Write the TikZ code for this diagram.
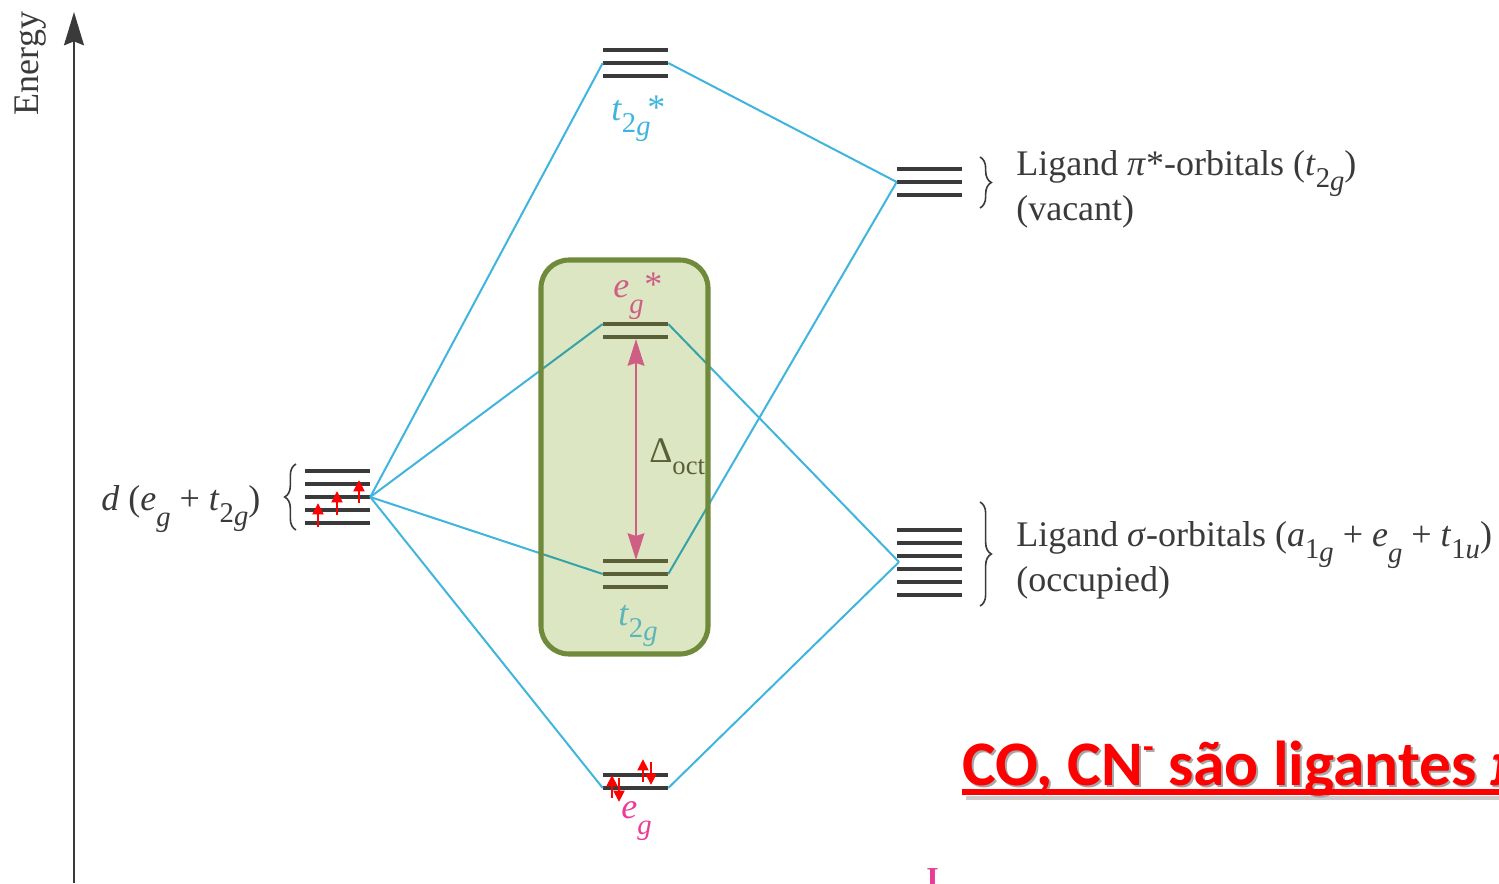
\documentclass[tikz,border=0pt]{standalone}
\usepackage{fontspec}
\usepackage{xcolor}
\setmainfont{Liberation Serif}
\newfontfamily\slidefont{Carlito}
\usetikzlibrary{positioning}
\usetikzlibrary{arrows.meta}
\usetikzlibrary{decorations.pathreplacing}
\definecolor{moblue}{HTML}{3FB4DE}
\definecolor{lvldark}{HTML}{3A3A3A}
\definecolor{lvlinner}{HTML}{686A4A}
\definecolor{pinkinner}{HTML}{EF69AF}
\definecolor{tealinner}{HTML}{6CC9F5}
\definecolor{egpink}{HTML}{EA3C96}
\definecolor{boxfill}{HTML}{DDE6C2}
\definecolor{boxedge}{HTML}{6F8A3A}
\newcommand{\lowsub}[1]{\raisebox{-0.36em}{\fontsize{21.5}{22}\selectfont #1}}
\newcommand{\twog}{\lowsub{2\raisebox{-0.1em}{\textit{g}}}}
\newcommand{\gsub}{\raisebox{-0.45em}{\fontsize{21.5}{22}\selectfont\textit{g}}}

\begin{document}
\begin{tikzpicture}[x=0.75pt,y=-0.75pt,node distance=9.75pt,on grid,
      lvl/.style={fill=lvldark, inner sep=0pt, minimum width=48.75pt, minimum height=3.5pt},
      lvlin/.style={lvl, fill=lvlinner},
      txt/.style={anchor=base west, inner sep=0pt, text=lvldark, font=\fontsize{27}{32}\selectfont, align=left},
      mo/.style={draw=moblue, line width=1.5pt},
      elec/.style={draw=red, line width=2.2pt, -{Triangle[length=8.5pt,width=8pt]}},
      brc/.style={draw=lvldark, line width=1.2pt, decorate},
      slide/.style={anchor=base west, inner sep=0pt, font=\slidefont\bfseries\fontsize{47.6}{56}\selectfont}]

      \useasboundingbox (0,0) rectangle (1499,883);
      \clip (0,0) rectangle (1499,883);

      % axis
      \coordinate (axbot) at (74,883);
      \coordinate (axtop) at (74,12);
      \draw[lvldark, line width=1.3pt, -{Stealth[length=25pt,width=15pt,inset=3pt]}] (axbot) -- (axtop);
      \node[txt, rotate=90] (energy) at (38,115.5) {Energy};

      % metal d levels
      \node[lvl] (d1) at (337.5,471) {};
      \node[lvl] (d2) [below=of d1] {};
      \node[lvl] (d3) [below=of d2] {};
      \node[lvl] (d4) [below=of d3] {};
      \node[lvl] (d5) [below=of d4] {};

      % molecular orbitals
      \node[lvl] (tsa) at (635.5,50) {};
      \node[lvl] (tsb) [below=of tsa] {};
      \node[lvl] (tsc) [below=of tsb] {};

      \node[lvlin] (esa) at (635.5,324) {};
      \node[lvlin] (esb) [below=of esa] {};

      \node[lvlin] (ta) at (635.5,561) {};
      \node[lvlin] (tb) [below=of ta] {};
      \node[lvlin] (tc) [below=of tb] {};

      \node[lvl] (ea) at (635.5,775) {};
      \node[lvl] (eb) [below=of ea] {};

      % ligand levels
      \node[lvl] (pa) at (929.5,169) {};
      \node[lvl] (pb) [below=of pa] {};
      \node[lvl] (pc) [below=of pb] {};

      \node[lvl] (sa) at (929.5,530) {};
      \node[lvl] (sb) [below=of sa] {};
      \node[lvl] (sc) [below=of sb] {};
      \node[lvl] (sd) [below=of sc] {};
      \node[lvl] (se) [below=of sd] {};
      \node[lvl] (sf) [below=of se] {};
      \coordinate (sgm) at (899,562);

      \path[mo]
        (d3.east) edge (tsb.west)
        (d3.east) edge (esa.west)
        (d3.east) edge (tb.west)
        (d3.east) edge (eb.west)
        (tsb.east) edge (pb.west)
        (tb.east) edge (pb.west)
        (esa.east) edge (sgm)
        (eb.east) edge (sgm)
        ;

      % electrons
      \draw[elec] (318,527) -- (318,503);
      \draw[elec] (337,515) -- (337,491);
      \draw[elec] (359,503) -- (359,480);
      \draw[elec] (612,798) -- (612,775);
      \draw[elec] (619,778) -- (619,802);
      \draw[elec] (643,782) -- (643,759);
      \draw[elec] (651,762) -- (651,785);

      % gap arrow
      \coordinate (gaptop) at (636,339);
      \coordinate (gapbot) at (636,560);
      \draw[pinkinner, line width=1.6pt, {Stealth[length=20pt,width=12.5pt,inset=2pt]}-{Stealth[length=20pt,width=12.5pt,inset=2pt]}] (gaptop) -- (gapbot);

      % labels inside the box
      \node[txt, text=pinkinner] (lesn) at (613,297) {\textit{e}\gsub};
      \node[txt, text=pinkinner] (lesx) at (644,296) {*};
      \node[txt, text=tealinner] (lt) at (618,625) {\textit{t}\twog};
      \node[txt, text=lvlinner] (loct) at (649,462) {Δ\raisebox{-0.36em}{\fontsize{20}{20}\selectfont oct}};

      \fill[boxfill, rounded corners=21pt, blend mode=multiply] (541,260) rectangle (708,654);
      \node[draw=boxedge, line width=3.8pt, rounded corners=21pt, inner sep=0pt, minimum width=125.25pt, minimum height=295.5pt] (box) at (624.5,457) {};

      % labels outside the box
      \node[txt, text=moblue] (ltsn) at (611,120) {\textit{t}\twog};
      \node[txt, text=moblue] (ltsx) at (647,119) {*};
      \node[txt, text=egpink] (len) at (621,818) {\textit{e}\gsub};
      \node[txt] (ld) at (101,510) {\textit{d} (\textit{e}\gsub{} + \textit{t}\twog)};
      \node[txt] (lpi) at (1016,175) {Ligand \textit{π}*-orbitals (\textit{t}\twog)};
      \node[txt] (lvac) at (1016,220) {(vacant)};
      \node[txt] (lsg) at (1016,546) {Ligand \textit{σ}-orbitals (\textit{a}\lowsub{1\raisebox{-0.1em}{\textit{g}}} + \textit{e}\gsub{} + \textit{t}\lowsub{1\textit{u}})};
      \node[txt] (locc) at (1016,591) {(occupied)};

      % braces
      \coordinate (bda) at (296,530);
      \coordinate (bdb) at (296,464);
      \coordinate (bpa) at (980,157);
      \coordinate (bpb) at (980,208);
      \coordinate (bsa) at (980,502);
      \coordinate (bsb) at (980,606);
      \draw[brc, decoration={brace,amplitude=8.5pt}] (bda) -- (bdb);
      \draw[brc, decoration={brace,amplitude=8.5pt}] (bpa) -- (bpb);
      \draw[brc, decoration={brace,amplitude=8.5pt}] (bsa) -- (bsb);

      % slide text
      \coordinate (ulsa) at (966,798);
      \coordinate (ulsb) at (1499,798);
      \draw[black!20, line width=3.5pt] (ulsa) -- (ulsb);
      \node[slide, text=black!35] (msgsh) at (964,787) {CO, CN\raisebox{0.42em}{\fontsize{26}{26}\selectfont -} são ligantes \textit{π}};
      \node[slide, text=red] (msg) at (962,785) {CO, CN\raisebox{0.42em}{\fontsize{26}{26}\selectfont -} são ligantes \textit{π}};
      \coordinate (ula) at (962,792);
      \coordinate (ulb) at (1499,792);
      \draw[red, line width=3.8pt] (ula) -- (ulb);
      \node[anchor=base west, inner sep=0pt, text=egpink, font=\bfseries\fontsize{24}{28}\selectfont] (cutl) at (926,889) {I};

    \end{tikzpicture}
\end{document}
